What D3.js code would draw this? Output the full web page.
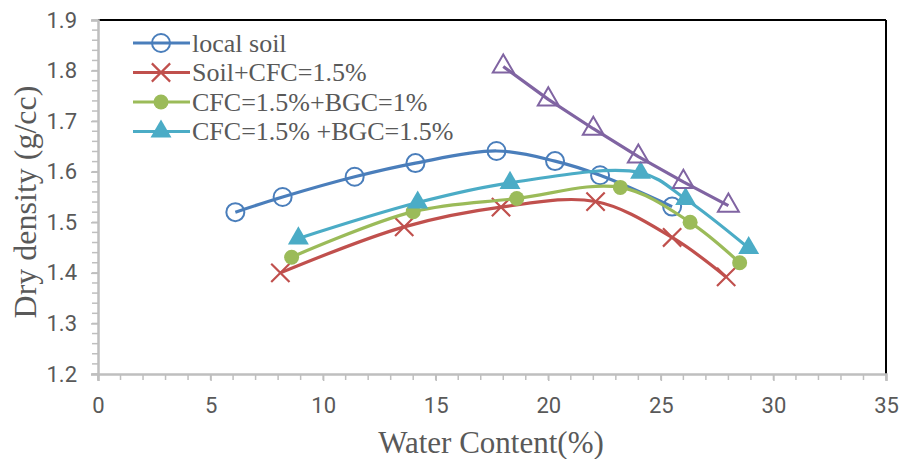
<!DOCTYPE html>
<html>
<head>
<meta charset="utf-8">
<script src="https://cdn.jsdelivr.net/npm/d3@7"></script>
<style>
  body { margin: 0; background: #fff; }
  svg { display: block; }
</style>
</head>
<body>
<div id="chart"></div>
<script>
// series values (x = water content %, y = dry density g/cc)
const localSoilX = [6.1, 8.2, 11.4, 14.1, 17.7, 20.3, 22.3, 25.5];
const localSoilY = [1.52, 1.55, 1.59, 1.617, 1.641, 1.621, 1.593, 1.531];

const cfcX = [8.1, 13.6, 17.9, 22.1, 25.5, 27.9];
const cfcY = [1.40, 1.491, 1.53, 1.541, 1.47, 1.392];

const bgc1X = [8.6, 14.0, 18.6, 23.2, 26.3, 28.5];
const bgc1Y = [1.431, 1.521, 1.547, 1.569, 1.50, 1.42];

const bgc15X = [8.9, 14.2, 18.3, 24.1, 26.1, 28.9];
const bgc15Y = [1.468, 1.539, 1.578, 1.598, 1.546, 1.449];

const extraX = [18.0, 20.0, 22.0, 24.0, 26.0, 28.0];
const extraY = [1.808, 1.743, 1.685, 1.63, 1.58, 1.533];

const xTicks = [0, 5, 10, 15, 20, 25, 30, 35];
const yTicks = [1.2, 1.3, 1.4, 1.5, 1.6, 1.7, 1.8, 1.9];

const legendNames = ['local soil', 'Soil+CFC=1.5%', 'CFC=1.5%+BGC=1%', 'CFC=1.5% +BGC=1.5%'];

const width = 899;
const height = 459;
const margin = {top: 20, left: 98, right: 13, bottom: 85};
const plotW = width - margin.left - margin.right;
const plotH = height - margin.top - margin.bottom;

const axisGray = '#bfbfbf';
const textGray = '#595959';
const serif = '"Liberation Serif", "Times New Roman", serif';

const series = [
    {name: legendNames[0], xs: localSoilX, ys: localSoilY, color: '#4a7ebb', marker: 'circleOpen', smooth: true},
    {name: legendNames[1], xs: cfcX, ys: cfcY, color: '#c0504d', marker: 'cross', smooth: true},
    {name: legendNames[2], xs: bgc1X, ys: bgc1Y, color: '#9bbb59', marker: 'circleFilled', smooth: true},
    {name: legendNames[3], xs: bgc15X, ys: bgc15Y, color: '#4bacc6', marker: 'triFilled', smooth: true},
    {name: null, xs: extraX, ys: extraY, color: '#8064a2', marker: 'triOpen', smooth: false}
];

const svg = d3.select('#chart')
    .append('svg')
    .attr('width', width)
    .attr('height', height);

const g = svg.append('g')
    .attr('transform', `translate(${margin.left},${margin.top})`);

const xScale = d3.scaleLinear().domain([0, 35]).range([0, plotW]);
const yScale = d3.scaleLinear().domain([1.2, 1.9]).range([plotH, 0]);

// frame: black top/right, grey axes left/bottom
g.append('line')
    .attr('x1', 0).attr('x2', plotW).attr('y1', 0).attr('y2', 0)
    .attr('stroke', '#000').attr('stroke-width', 2);
g.append('line')
    .attr('x1', plotW).attr('x2', plotW).attr('y1', 0).attr('y2', plotH)
    .attr('stroke', '#000').attr('stroke-width', 2);

// minor ticks
const xMinor = d3.range(0, 36, 1);
const yMinor = d3.range(0, 36).map(i => 1.2 + i * 0.02);

g.append('g')
    .selectAll('line')
    .data(xMinor)
    .join('line')
    .attr('x1', d => xScale(d)).attr('x2', d => xScale(d))
    .attr('y1', plotH).attr('y2', plotH + 6)
    .attr('stroke', axisGray).attr('stroke-width', 1.5);

g.append('g')
    .selectAll('line')
    .data(yMinor)
    .join('line')
    .attr('x1', -6).attr('x2', 0)
    .attr('y1', d => yScale(d)).attr('y2', d => yScale(d))
    .attr('stroke', axisGray).attr('stroke-width', 1.5);

const xAxis = g.append('g')
    .attr('transform', `translate(0,${plotH})`)
    .call(d3.axisBottom(xScale).tickValues(xTicks).tickSize(7).tickPadding(16).tickFormat(d3.format('d')));

const yAxis = g.append('g')
    .call(d3.axisLeft(yScale).tickValues(yTicks).tickSize(7).tickPadding(14).tickFormat(d3.format('.1f')));

[xAxis, yAxis].forEach(ax => {
    ax.select('.domain').attr('stroke', axisGray).attr('stroke-width', 2.5);
    ax.selectAll('.tick line').attr('stroke', axisGray).attr('stroke-width', 1.5);
    ax.selectAll('.tick text')
        .attr('fill', textGray)
        .style('font-family', 'Roboto, sans-serif')
        .style('font-size', '22px');
});

// axis titles
svg.append('text')
    .attr('x', 491)
    .attr('y', 453)
    .attr('text-anchor', 'middle')
    .attr('fill', textGray)
    .style('font-family', serif)
    .style('font-size', '31px')
    .text('Water Content(%)');

svg.append('text')
    .attr('transform', 'translate(36,202) rotate(-90)')
    .attr('text-anchor', 'middle')
    .attr('fill', textGray)
    .style('font-family', serif)
    .style('font-size', '32px')
    .text('Dry density (g/cc)');

function drawMarker(sel, type, color) {
    if (type === 'circleOpen') {
        sel.append('circle').attr('r', 9)
            .attr('fill', 'none').attr('stroke', color).attr('stroke-width', 2);
    } else if (type === 'circleFilled') {
        sel.append('circle').attr('r', 7.5).attr('fill', color);
    } else if (type === 'cross') {
        sel.append('path')
            .attr('d', d3.symbol().type(d3.symbolTimes).size(220)())
            .attr('fill', 'none').attr('stroke', color).attr('stroke-width', 2.2);
    } else if (type === 'triFilled') {
        sel.append('path')
            .attr('d', d3.symbol().type(d3.symbolTriangle).size(190)())
            .attr('fill', color);
    } else if (type === 'triOpen') {
        sel.append('path')
            .attr('d', d3.symbol().type(d3.symbolTriangle).size(190)())
            .attr('fill', 'none').attr('stroke', color).attr('stroke-width', 2);
    }
}

series.forEach(s => {
    const pts = s.xs.map((x, i) => [x, s.ys[i]]);
    const line = d3.line()
        .curve(s.smooth ? d3.curveCatmullRom.alpha(0.5) : d3.curveLinear)
        .x(d => xScale(d[0]))
        .y(d => yScale(d[1]));

    g.append('path')
        .datum(pts)
        .attr('d', line)
        .attr('fill', 'none')
        .attr('stroke', s.color)
        .attr('stroke-width', 3.2)
        .attr('stroke-linejoin', 'round');

    g.append('g')
        .selectAll('g')
        .data(pts)
        .join('g')
        .attr('transform', d => `translate(${xScale(d[0])},${yScale(d[1])})`)
        .each(function () { drawMarker(d3.select(this), s.marker, s.color); });
});

// legend
const legend = svg.append('g');
series.filter(s => s.name).forEach((s, i) => {
    const y = 43 + i * 29.5;
    legend.append('line')
        .attr('x1', 133).attr('x2', 190).attr('y1', y).attr('y2', y)
        .attr('stroke', s.color).attr('stroke-width', 3.2);
    const m = legend.append('g').attr('transform', `translate(161,${y})`);
    drawMarker(m, s.marker, s.color);
    legend.append('text')
        .attr('x', 192)
        .attr('y', y + 8.5)
        .attr('fill', textGray)
        .style('font-family', serif)
        .style('font-size', '26px')
        .text(s.name);
});
</script>
</body>
</html>
